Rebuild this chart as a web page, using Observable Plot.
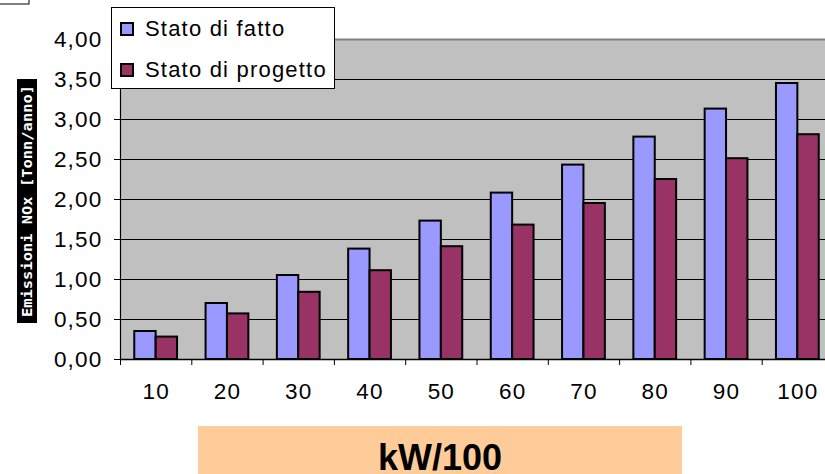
<!DOCTYPE html>
<html lang="it">
<head>
<meta charset="utf-8">
<script src="https://cdn.jsdelivr.net/npm/d3@7"></script>
<script src="https://cdn.jsdelivr.net/npm/@observablehq/plot@0.6"></script>
<style>
  html, body { margin: 0; padding: 0; background: #fff; overflow: hidden; }
  #wrap { position: relative; width: 825px; height: 474px; font-family: "Liberation Sans", Arial, sans-serif; }
  #chart svg { display: block; }
  #chart svg text { font-family: "Liberation Sans", Arial, sans-serif !important; font-size: 22.5px !important; letter-spacing: 1.2px; }
  #overlay { position: absolute; left: 0; top: 0; pointer-events: none; }
</style>
</head>
<body>
<div id="wrap">
  <div id="chart"></div>
  <svg id="overlay" width="825" height="474"></svg>
</div>
<script>
// Potenza (kW/100)
const categories = [10, 20, 30, 40, 50, 60, 70, 80, 90, 100];
// Emissioni NOx [Tonn/anno]
const statoDiFatto    = [0.35, 0.70, 1.05, 1.38, 1.73, 2.08, 2.43, 2.78, 3.13, 3.45];
const statoDiProgetto = [0.28, 0.57, 0.84, 1.11, 1.41, 1.68, 1.95, 2.25, 2.51, 2.81];
const seriesNames = ["Stato di fatto", "Stato di progetto"];
const seriesColors = ["#9999FF", "#993366"];
const yTicks = [0, 0.5, 1, 1.5, 2, 2.5, 3, 3.5, 4];
const yLabel = "Emissioni NOx [Tonn/anno]";
const xLabel = "kW/100";

const rows = categories.flatMap((k, i) => [
  {kw: k, serie: seriesNames[0], value: statoDiFatto[i]},
  {kw: k, serie: seriesNames[1], value: statoDiProgetto[i]}
]);

// each category occupies 10 units; the two bars take 3 units each around the centre
const half = 5, barW = 3;
const edges = categories.map(k => k - half);
const fmt = v => v.toFixed(2).replace(".", ",");
const font = "'Liberation Sans', Arial, sans-serif";

const chart = Plot.plot({
  width: 825,
  height: 420,
  marginLeft: 120,
  marginRight: 0,
  marginTop: 39,
  marginBottom: 61,
  x: {domain: [categories[0] - half, categories[categories.length - 1] + half], range: [120, 833]},
  y: {domain: [0, 4]},
  color: {domain: seriesNames, range: seriesColors},
  style: {fontFamily: font, fontSize: "22px", color: "#000", background: "transparent"},
  marks: [
    Plot.frame({fill: "#C0C0C0", stroke: "none"}),
    Plot.ruleY(yTicks.filter(v => v > 0 && v < 4), {stroke: "#000", strokeWidth: 1.2}),
    Plot.ruleY([4], {stroke: "#808080", strokeWidth: 2}),
    Plot.rectY(rows, {
      x1: d => d.serie === seriesNames[0] ? d.kw - barW : d.kw,
      x2: d => d.serie === seriesNames[0] ? d.kw : d.kw + barW,
      y: "value",
      fill: "serie",
      stroke: "#000",
      strokeWidth: 2
    }),
    Plot.ruleX([categories[0] - half], {stroke: "#000", strokeWidth: 1.2}),
    Plot.ruleY([0], {stroke: "#000", strokeWidth: 1.5}),
    Plot.axisY({ticks: yTicks, tickFormat: fmt, tickSize: 6, tickPadding: 12, label: null, stroke: "#000", fontSize: 22}),
    Plot.axisX({ticks: edges, tickFormat: () => "", tickSize: 6, label: null, stroke: "#000"}),
    Plot.axisX({ticks: categories, tickSize: 0, tickPadding: 24, label: null, fontSize: 22})
  ]
});
document.getElementById("chart").appendChild(chart);

// legend, axis titles and decorations drawn in an overlay
const ov = d3.select("#overlay");

// small frame in the upper left corner
ov.append("rect").attr("x", -1).attr("y", -1).attr("width", 30).attr("height", 5)
  .attr("fill", "#fff").attr("stroke", "#000").attr("stroke-width", 1);

// legend box
const lg = ov.append("g");
lg.append("rect").attr("x", 111.5).attr("y", 7.5).attr("width", 223).attr("height", 81)
  .attr("fill", "#fff").attr("stroke", "#000").attr("stroke-width", 1);
seriesNames.forEach((name, i) => {
  const base = 36 + i * 41;
  lg.append("rect").attr("x", 121).attr("y", base - 13).attr("width", 12).attr("height", 12)
    .attr("fill", seriesColors[i]).attr("stroke", "#000").attr("stroke-width", 2);
  lg.append("text").attr("x", 145).attr("y", base)
    .attr("font-family", font).attr("font-size", 22)
    .attr("letter-spacing", "1.2px").attr("fill", "#000").text(name);
});

// vertical axis title: white text on a black band
ov.append("rect").attr("x", 17).attr("y", 79).attr("width", 20).attr("height", 244).attr("fill", "#000");
ov.append("text")
  .attr("transform", "translate(32,201) rotate(-90)")
  .attr("text-anchor", "middle")
  .attr("font-family", "'DejaVu Sans Mono', monospace").attr("font-weight", "bold").attr("font-size", 14)
  .attr("textLength", 232).attr("lengthAdjust", "spacingAndGlyphs")
  .attr("fill", "#fff").text(yLabel);

// horizontal axis title on an orange band
ov.append("rect").attr("x", 198).attr("y", 426).attr("width", 484).attr("height", 60).attr("fill", "#FFCC99");
ov.append("text").attr("x", 440).attr("y", 470).attr("text-anchor", "middle")
  .attr("font-family", font).attr("font-weight", "bold").attr("font-size", 36)
  .attr("fill", "#000").text(xLabel);
</script>
</body>
</html>
